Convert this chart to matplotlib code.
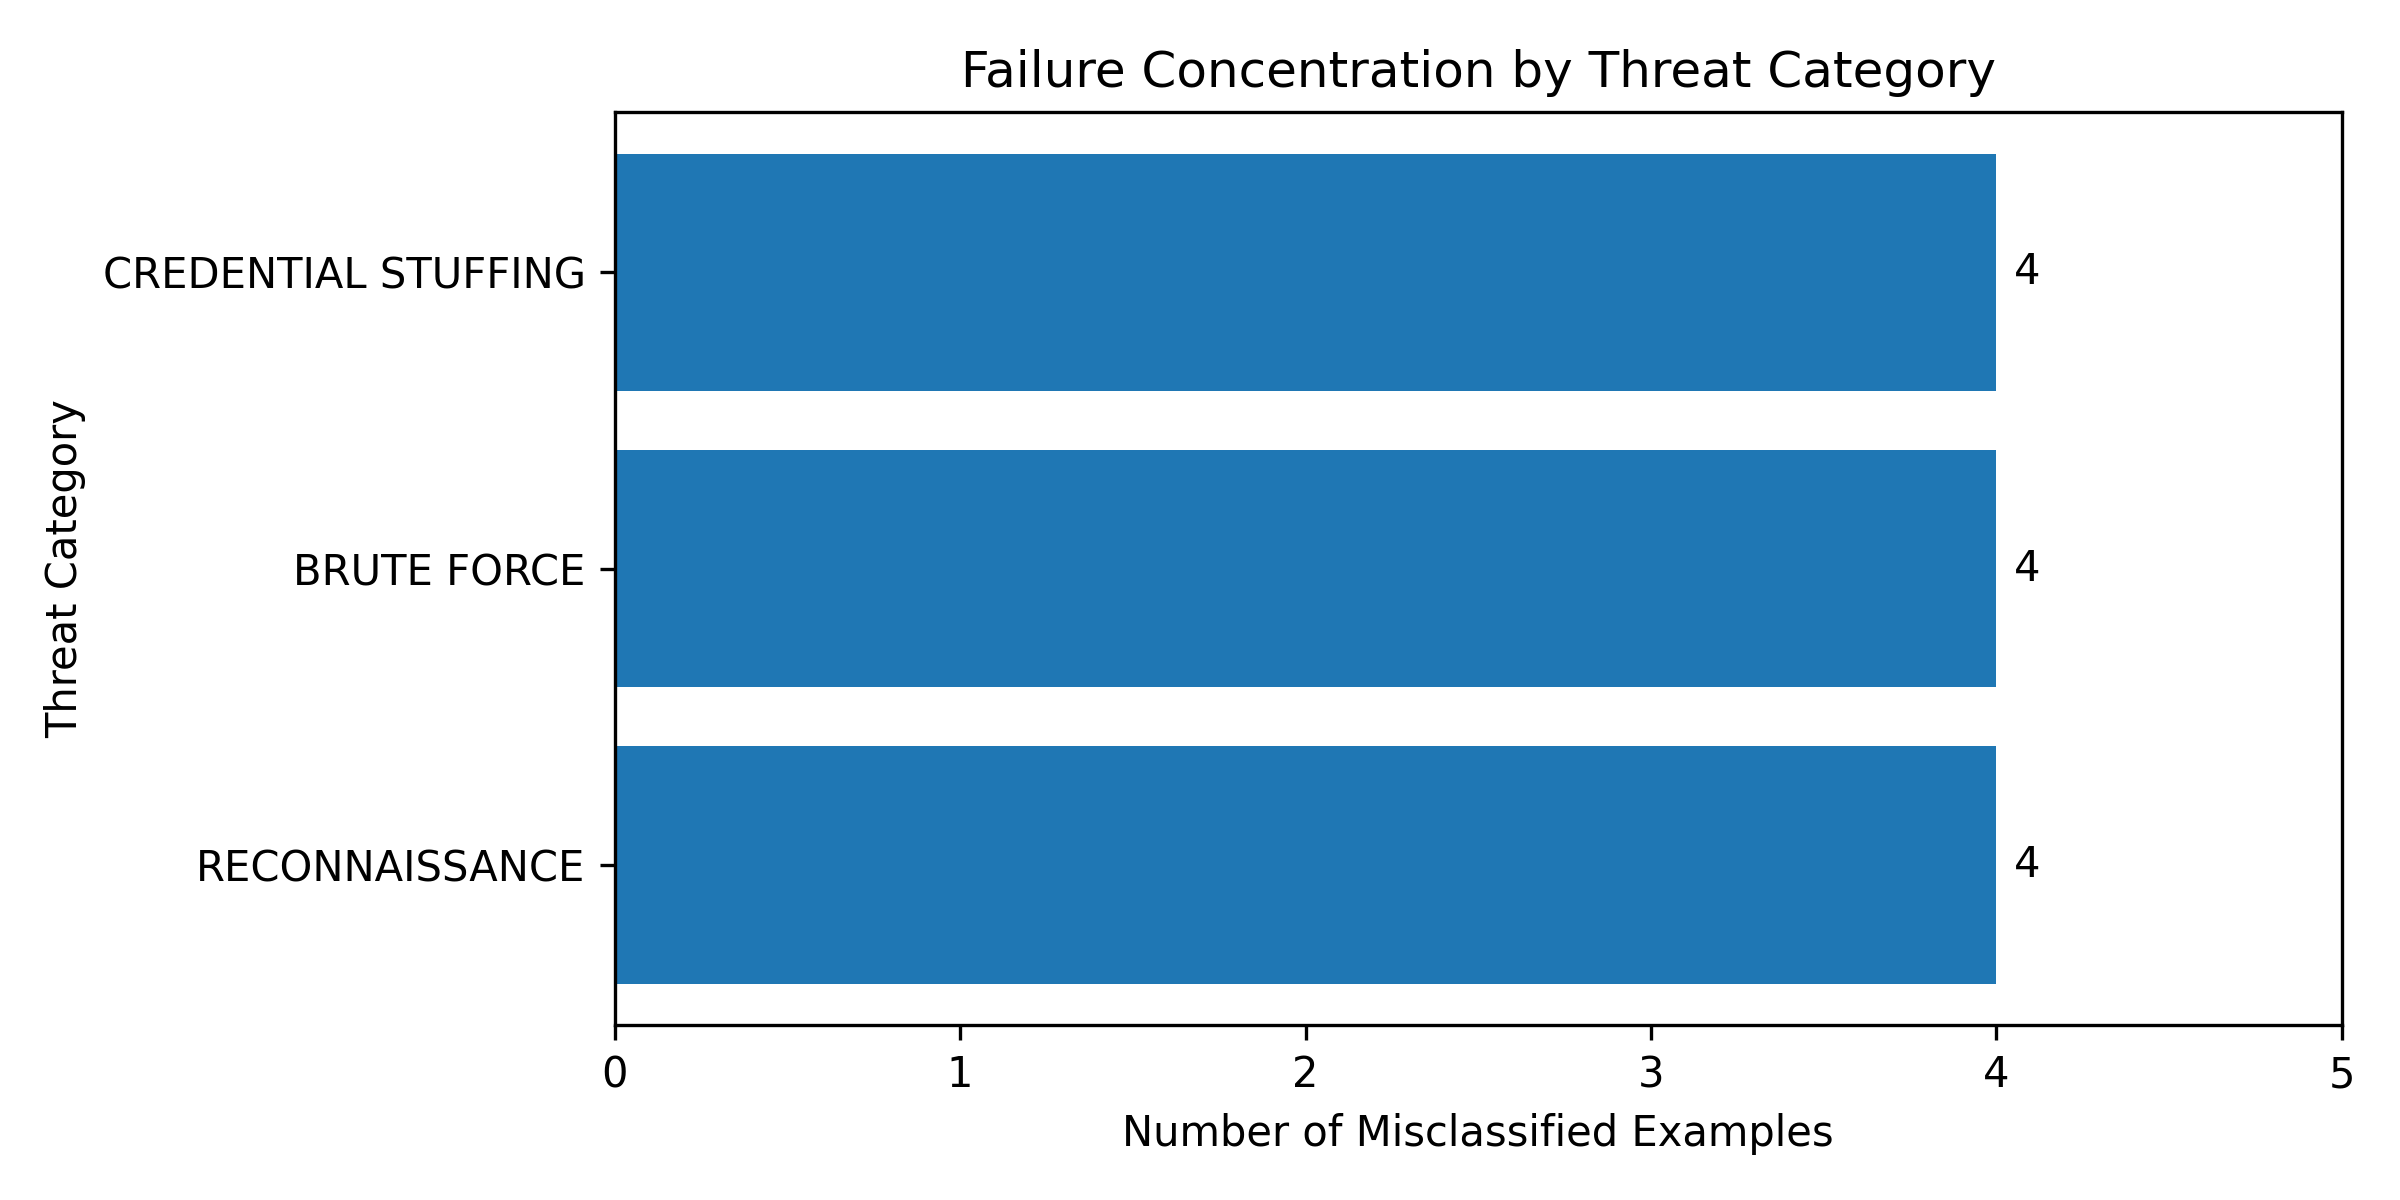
import matplotlib
matplotlib.use("Agg")
import matplotlib.pyplot as plt

categories = ["RECONNAISSANCE", "BRUTE FORCE", "CREDENTIAL STUFFING"]
counts = [4, 4, 4]

fig, ax = plt.subplots(figsize=(8, 4))
bars = ax.barh(categories, counts, color="#1f77b4")

for bar, val in zip(bars, counts):
    ax.text(bar.get_width() + 0.05, bar.get_y() + bar.get_height() / 2,
            str(val), va="center", ha="left")

ax.set_xlim(0, max(counts) + 1)
ax.set_xlabel("Number of Misclassified Examples")
ax.set_ylabel("Threat Category")
ax.set_title("Failure Concentration by Threat Category")

fig.tight_layout()
fig.savefig("out.png", dpi=300)
